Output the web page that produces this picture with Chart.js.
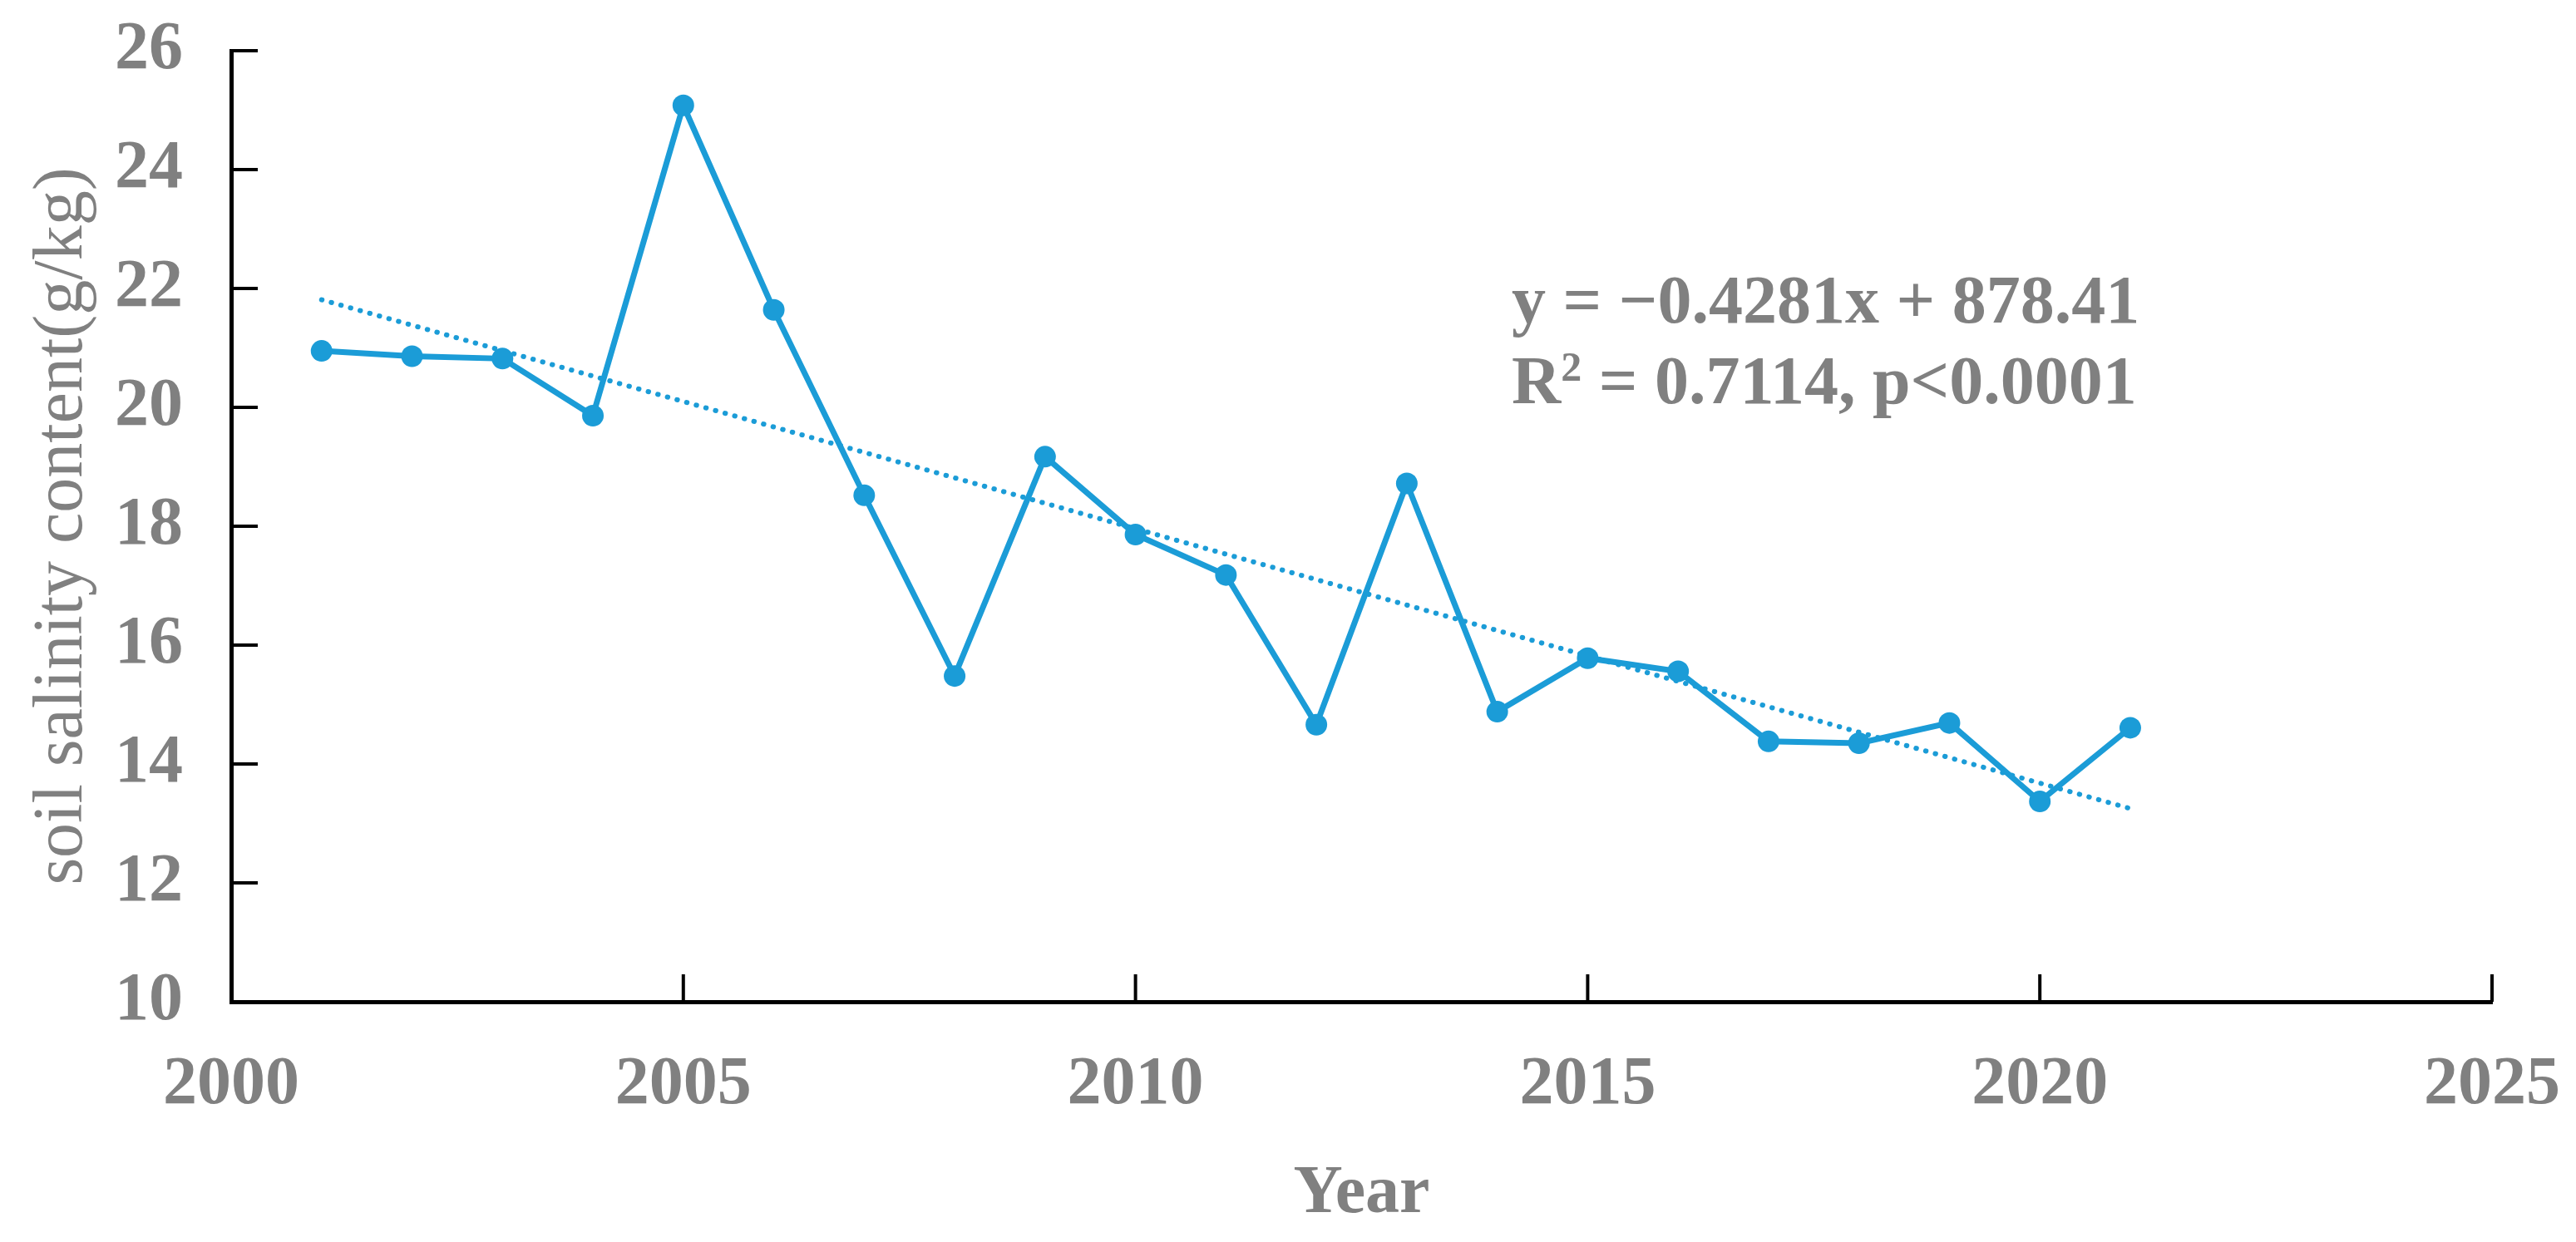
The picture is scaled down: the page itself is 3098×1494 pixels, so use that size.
<!DOCTYPE html>
<html>
<head>
<meta charset="utf-8">
<script src="https://cdn.jsdelivr.net/npm/chart.js@4.4.1/dist/chart.umd.min.js"></script>
<style>
  html, body { margin: 0; padding: 0; background: #fff; }
  #wrap { width: 3098px; height: 1494px; }
</style>
</head>
<body>
<div id="wrap"><canvas id="salinityChart" width="3098" height="1494"></canvas></div>
<script>
const years = [2001, 2002, 2003, 2004, 2005, 2006, 2007, 2008, 2009, 2010, 2011,
               2012, 2013, 2014, 2015, 2016, 2017, 2018, 2019, 2020, 2021];
const salinity = [20.95, 20.86, 20.82, 19.86, 25.08, 21.64, 18.52, 15.48, 19.17, 17.86, 17.18,
                  14.66, 18.72, 14.88, 15.78, 15.56, 14.38, 14.35, 14.69, 13.37, 14.61];

// linear fit line, end points
const trendYears = [2001, 2021];
const trendValues = [21.81, 13.25];

const xTicks = [2000, 2005, 2010, 2015, 2020, 2025];
const yTicks = [10, 12, 14, 16, 18, 20, 22, 24, 26];

const eqLine1 = 'y = \u22120.4281x + 878.41';
const eqLine2 = ' = 0.7114, p<0.0001';

const BLUE = '#1b9cd7';
const GREY = '#808080';
const SERIF = "'Liberation Serif', 'Times New Roman', serif";

// ticks point inwards, so draw them by hand from the scales
const inwardTicks = {
  id: 'inwardTicks',
  afterDraw(chart) {
    const { ctx, chartArea, scales } = chart;
    ctx.save();
    ctx.strokeStyle = '#000';
    ctx.lineWidth = 4;
    scales.y.ticks.forEach((t) => {
      const py = scales.y.getPixelForValue(t.value);
      ctx.beginPath();
      ctx.moveTo(chartArea.left, py);
      ctx.lineTo(chartArea.left + 32, py);
      ctx.stroke();
    });
    scales.x.ticks.forEach((t) => {
      const px = scales.x.getPixelForValue(t.value);
      ctx.beginPath();
      ctx.moveTo(px, chartArea.bottom);
      ctx.lineTo(px, chartArea.bottom - 33);
      ctx.stroke();
    });
    ctx.restore();
  }
};

const equation = {
  id: 'equation',
  afterDraw(chart) {
    const ctx = chart.ctx;
    const x0 = 1818;
    ctx.save();
    ctx.fillStyle = GREY;
    ctx.textBaseline = 'alphabetic';
    ctx.textAlign = 'left';
    ctx.font = 'bold 82px ' + SERIF;
    ctx.fillText(eqLine1, x0, 388);
    ctx.fillText('R', x0, 485);
    let x = x0 + ctx.measureText('R').width;
    ctx.font = 'bold 50px ' + SERIF;
    ctx.fillText('2', x, 458);
    x += ctx.measureText('2').width;
    ctx.font = 'bold 82px ' + SERIF;
    ctx.fillText(eqLine2, x, 485);
    ctx.restore();
  }
};

const ctx = document.getElementById('salinityChart').getContext('2d');

new Chart(ctx, {
  type: 'line',
  data: {
    datasets: [{
      label: 'soil salinity',
      data: years.map((yr, i) => ({ x: yr, y: salinity[i] })),
      borderColor: BLUE,
      backgroundColor: BLUE,
      borderWidth: 7,
      pointRadius: 13,
      pointBackgroundColor: BLUE,
      pointBorderWidth: 0,
      tension: 0
    }, {
      label: 'trend',
      data: trendYears.map((yr, i) => ({ x: yr, y: trendValues[i] })),
      borderColor: BLUE,
      borderWidth: 6,
      borderDash: [0.5, 11.5],
      borderCapStyle: 'round',
      pointRadius: 0,
      tension: 0
    }]
  },
  options: {
    responsive: false,
    animation: false,
    layout: { autoPadding: false, padding: { left: 0, top: 61, right: 101, bottom: 0 } },
    plugins: {
      legend: { display: false },
      tooltip: { enabled: false }
    },
    scales: {
      x: {
        type: 'linear',
        min: 2000,
        max: 2025,
        afterBuildTicks: (scale) => { scale.ticks = xTicks.map(v => ({ value: v })); },
        afterFit: (scale) => {
          scale.height = 289;
          scale.paddingLeft = 0;
          scale.paddingRight = 0;
        },
        grid: { display: false, drawTicks: false },
        border: { display: true, color: '#000', width: 5 },
        ticks: {
          color: GREY,
          padding: 52,
          font: { family: SERIF, size: 82, weight: 'bold' },
          maxRotation: 0,
          callback: (v) => String(v)
        },
        title: {
          display: true,
          text: 'Year',
          color: GREY,
          font: { family: SERIF, size: 82, weight: 'bold', lineHeight: 1 },
          padding: { top: 14, bottom: 16 }
        }
      },
      y: {
        min: 10,
        max: 26,
        afterBuildTicks: (scale) => { scale.ticks = yTicks.map(v => ({ value: v })); },
        afterFit: (scale) => {
          scale.width = 278;
          scale.paddingTop = 0;
          scale.paddingBottom = 0;
        },
        grid: { display: false, drawTicks: false },
        border: { display: true, color: '#000', width: 5 },
        ticks: {
          color: GREY,
          padding: 58,
          font: { family: SERIF, size: 82, weight: 'bold' },
          callback: (v) => String(v)
        },
        title: {
          display: true,
          text: 'soil salinity content(g/kg)',
          color: GREY,
          font: { family: SERIF, size: 84, weight: 'normal', lineHeight: 1 },
          padding: { top: 34, bottom: 0 }
        }
      }
    }
  },
  plugins: [inwardTicks, equation]
});
</script>
</body>
</html>
